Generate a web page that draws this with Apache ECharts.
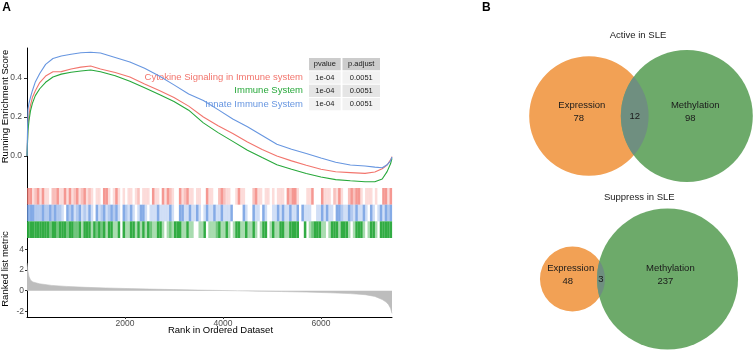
<!DOCTYPE html>
<html><head><meta charset="utf-8">
<script src="https://cdn.jsdelivr.net/npm/echarts@6/dist/echarts.min.js"></script>
<style>html,body{margin:0;padding:0;background:#fff}#c{width:754px;height:351px}</style>
</head><body><div id="c"></div>
<script>
// ---------------- data ----------------
const setNames = ['Cytokine Signaling in Immune system', 'Immune System', 'Innate Immune System'];
const pvalues = ['1e-04', '1e-04', '1e-04'];
const padjust = ['0.0051', '0.0051', '0.0051'];
const tableHeader = ['pvalue', 'p.adjust'];

const esRanks = [0,20,40,70,110,170,260,380,530,700,900,1100,1300,1500,1800,2100,2400,2700,3000,3300,3600,3900,4200,4500,4800,5100,5400,5700,6000,6300,6600,6900,7100,7250,7350,7420,7450];
const esCytokine = [0,0.16,0.21,0.26,0.30,0.335,0.377,0.41,0.432,0.433,0.446,0.456,0.462,0.446,0.428,0.405,0.37,0.336,0.30,0.256,0.2,0.155,0.116,0.072,0.033,0.0,-0.025,-0.047,-0.068,-0.081,-0.085,-0.089,-0.082,-0.065,-0.046,-0.02,-0.003];
const esImmune = [0,0.13,0.18,0.23,0.27,0.31,0.345,0.378,0.405,0.42,0.43,0.436,0.441,0.432,0.412,0.383,0.35,0.315,0.28,0.235,0.17,0.12,0.075,0.03,-0.008,-0.045,-0.068,-0.09,-0.108,-0.121,-0.127,-0.132,-0.132,-0.118,-0.08,-0.04,-0.012];
const esInnate = [0,0.24,0.27,0.30,0.335,0.38,0.423,0.47,0.50,0.513,0.522,0.53,0.532,0.528,0.505,0.482,0.45,0.41,0.365,0.318,0.285,0.238,0.19,0.15,0.105,0.06,0.035,0.013,-0.01,-0.032,-0.046,-0.051,-0.057,-0.06,-0.045,-0.025,-0.005];

const metricRanks = [0,15,40,70,120,250,500,800,1200,1600,2000,2500,3000,3500,4000,4300,4700,5200,5700,6200,6600,6900,7100,7250,7330,7380,7420,7450];
const metricValues = [2.7,2.0,1.4,1.05,0.85,0.68,0.52,0.42,0.33,0.27,0.22,0.16,0.11,0.06,0.02,0.0,-0.04,-0.08,-0.13,-0.2,-0.28,-0.38,-0.55,-0.85,-1.1,-1.35,-1.7,-2.2];

// gene-set hit intensity per 50-rank bin (0 none .. 3 dense)
const rugBin = 50;
const rugCytokine = [3,3,1,2,3, 1,3,1,1,0, 2,2,3,1,1, 3,1,3,1,2, 3,1,2,3,1, 2,1,0,1,1, 0,3,3,1,0, 1,3,1,0,1, 0,1,1,0,1, 2,0,1,1,1, 0,3,1,1,0, 3,1,3,2,1, 0,0,3,1,2, 3,1,1,0,1, 1,0,0,3,1, 1,0,0,2,3, 2,1,1,0,0, 1,3,1,1,0, 0,0,2,3,1, 1,0,1,1,0, 1,0,1,1,1, 0,3,2,3,3, 1,0,0,0,1, 1,3,0,0,0, 3,1,1,1,0, 2,1,3,1,0, 0,2,3,2,3, 3,1,0,1,1, 1,0,1,0,0, 3,3,1,3];
const rugInnate = [3,3,3,2,2, 2,3,2,2,3, 2,3,2,2,1, 0,3,2,3,1, 2,3,1,2,1, 3,1,0,3,1, 2,3,1,2,3, 2,3,1,0,3, 2,1,3,1,0, 1,3,3,1,0, 1,1,1,3,1, 1,1,1,3,1, 0,0,3,3,1, 1,3,1,1,3, 1,0,1,3,1, 1,3,1,1,3, 1,1,1,3,0, 0,0,0,3,1, 0,0,3,1,1, 0,3,1,0,0, 1,1,3,1,3, 1,1,3,1,1, 3,0,3,1,1, 1,0,0,1,1, 3,1,3,1,1, 0,3,3,2,1, 1,3,2,1,3, 1,1,3,1,0, 3,1,0,1,3, 1,3,2,3];
const rugImmune = [3,3,3,3,3, 3,3,3,3,2, 3,3,2,3,3, 3,2,3,3,2, 2,3,1,3,3, 3,1,3,2,3, 2,3,1,3,3, 1,1,3,0,3, 1,1,3,3,1, 3,1,3,1,3, 2,1,1,3,3, 1,0,1,2,1, 3,3,3,1,1, 3,1,1,0,0, 1,1,3,0,1, 1,1,2,3,1, 1,3,1,0,1, 3,3,1,1,3, 1,1,3,1,0, 1,3,3,0,1, 3,1,1,3,3, 1,1,3,3,3, 3,0,0,3,0, 1,2,3,3,3, 1,1,0,1,3, 3,3,1,3,3, 3,1,0,1,3, 3,3,1,0,1, 3,3,1,0,3, 3,3,3,3];

const xTicks = [2000, 4000, 6000];
const esTicks = [0, 0.2, 0.4];
const metricTicks = [-2, 0, 2, 4];

const vennSetNames = ['Expression', 'Methylation'];
const vennTitles = ['Active in SLE', 'Suppress in SLE'];
const activeCounts = [78, 98, 12];     // only A, only B, both
const suppressCounts = [48, 237, 3];

// ---------------- styles / layout ----------------
const FONT = '"Liberation Sans", Arial, Helvetica, sans-serif';
const setColors = ['#F2756D', '#27A83A', '#6796E0'];
const rugOrder = [0, 2, 1]; // red top, blue middle, green bottom
const rugAlpha = [[0, 0.25, 0.45, 0.75], [0, 0.3, 0.5, 0.8], [0, 0.4, 0.65, 0.95]];
const vennColors = ['#F2A155', '#6DAA6A', '#6F8F80'];

function lensArea(r1, r2, d) {
  if (d >= r1 + r2) return 0;
  if (d <= Math.abs(r1 - r2)) return Math.PI * Math.min(r1, r2) ** 2;
  const a1 = Math.acos((d * d + r1 * r1 - r2 * r2) / (2 * d * r1));
  const a2 = Math.acos((d * d + r2 * r2 - r1 * r1) / (2 * d * r2));
  return r1 * r1 * (a1 - Math.sin(2 * a1) / 2) + r2 * r2 * (a2 - Math.sin(2 * a2) / 2);
}
function vennLayout(counts) {
  const r1 = Math.sqrt(counts[0] + counts[2]);
  const r2 = Math.sqrt(counts[1] + counts[2]);
  const target = Math.PI * counts[2];
  let lo = Math.abs(r1 - r2), hi = r1 + r2;
  for (let k = 0; k < 80; k++) {
    const mid = (lo + hi) / 2;
    if (lensArea(r1, r2, mid) > target) lo = mid; else hi = mid;
  }
  return { r1, r2, d: (lo + hi) / 2 };
}
const vennSpecs = [
  { counts: activeCounts, cx: 641, cy: 116, scale: 6.293 },
  { counts: suppressCounts, cx: 639, cy: 279, scale: 4.551 }
];
vennSpecs.forEach(s => {
  s.L = vennLayout(s.counts);
  s.xmin = -s.L.r1; s.xmax = s.L.d + s.L.r2;
  s.R = Math.max(s.L.r1, s.L.r2);
  s.w = (s.xmax - s.xmin) * s.scale; s.h = 2 * s.R * s.scale;
});

function vennRender(spec) {
  return function (params, api) {
    const L = spec.L, counts = spec.counts;
    const c1 = api.coord([0, 0]), c2 = api.coord([L.d, 0]);
    const p1 = api.size([L.r1, 0])[0], p2 = api.size([L.r2, 0])[0];
    const D = c2[0] - c1[0];
    const xi = (D * D + p1 * p1 - p2 * p2) / (2 * D);
    const yi = Math.sqrt(Math.max(0, p1 * p1 - xi * xi));
    const tx = c1[0] + xi, tTop = c1[1] - yi, tBot = c1[1] + yi;
    const lens = 'M' + tx + ' ' + tTop + ' A' + p1 + ' ' + p1 + ' 0 0 1 ' + tx + ' ' + tBot +
                 ' A' + p2 + ' ' + p2 + ' 0 0 1 ' + tx + ' ' + tTop + ' Z';
    const lensX = ((c2[0] - p2) + (c1[0] + p1)) / 2;
    const A1 = Math.PI * p1 * p1, A2 = Math.PI * p2 * p2, LA = lensArea(p1, p2, D);
    const x1 = (A1 * c1[0] - LA * lensX) / (A1 - LA);
    const x2 = (A2 * c2[0] - LA * lensX) / (A2 - LA);
    const cy = c1[1];
    const txt = (s, x, y) => ({ type: 'text', x: x, y: y, style: { text: s, fill: '#1a1a1a', font: '9.5px ' + FONT, textAlign: 'center', textVerticalAlign: 'middle', align: 'center', verticalAlign: 'middle' } });
    return {
      type: 'group',
      children: [
        { type: 'circle', shape: { cx: c1[0], cy: cy, r: p1 }, style: { fill: vennColors[0] } },
        { type: 'circle', shape: { cx: c2[0], cy: cy, r: p2 }, style: { fill: vennColors[1] } },
        { type: 'path', shape: { pathData: lens }, style: { fill: vennColors[2] } },
        txt(vennSetNames[0], x1, cy - 10.3),
        txt(String(counts[0]), x1 - 3, cy + 2),
        txt(vennSetNames[1], x2 + 2, cy - 11),
        txt(String(counts[1]), x2 - 3, cy + 2),
        txt(String(counts[2]), lensX, cy)
      ]
    };
  };
}

// ---------------- series ----------------
const esSeries = [esCytokine, esImmune, esInnate].map((vals, i) => ({
  type: 'line', xAxisIndex: 0, yAxisIndex: 0, name: setNames[i],
  data: esRanks.map((r, j) => [r, vals[j]]),
  showSymbol: false, symbol: 'none', silent: true,
  lineStyle: { color: setColors[i], width: 1.1 }, z: 3 + (i === 2 ? 1 : 0)
}));

const rugData = [];
[rugCytokine, rugInnate, rugImmune].forEach((arr, row) => {
  arr.forEach((lvl, i) => { if (lvl > 0) rugData.push([i * rugBin, row, lvl]); });
});
const rugSeries = {
  type: 'custom', xAxisIndex: 1, yAxisIndex: 1, data: rugData, silent: true,
  renderItem: function (params, api) {
    const x0 = api.value(0), row = api.value(1), lvl = api.value(2);
    const a = api.coord([x0, row]), b = api.coord([x0 + rugBin, row + 1]);
    return {
      type: 'rect',
      shape: { x: a[0], y: Math.min(a[1], b[1]), width: (b[0] - a[0]) + 0.1, height: Math.abs(b[1] - a[1]) },
      style: { fill: setColors[rugOrder[row]], opacity: rugAlpha[row][lvl] }
    };
  }
};

const metricSeries = {
  type: 'line', xAxisIndex: 2, yAxisIndex: 2,
  data: metricRanks.map((r, j) => [r, metricValues[j]]),
  showSymbol: false, symbol: 'none', silent: true,
  lineStyle: { color: '#bdbdbd', width: 0.6 },
  areaStyle: { color: '#bdbdbd', opacity: 1 }
};

const vennSeries = vennSpecs.map((s, i) => ({
  type: 'custom', xAxisIndex: 3 + i, yAxisIndex: 3 + i, data: [[0, 0]], silent: true,
  renderItem: vennRender(s)
}));

// ---------------- graphic (table, texts) ----------------
const graphic = [];
const gtext = (s, x, y, opts) => Object.assign({
  type: 'text', x: x, y: y, silent: true,
  style: Object.assign({ text: s, fill: '#000', font: '9.5px ' + FONT, textAlign: 'center', textVerticalAlign: 'middle', align: 'center', verticalAlign: 'middle' }, (opts && opts.style) || {})
}, (opts && opts.el) || {});
graphic.push(gtext('A', 6.7, 7.6, { style: { font: 'bold 12px ' + FONT } }));
graphic.push(gtext('B', 486.3, 7.8, { style: { font: 'bold 12px ' + FONT } }));
graphic.push(gtext('Running Enrichment Score', 5, 106.5, { el: { rotation: Math.PI / 2 } }));
graphic.push(gtext('Ranked list metric', 5.2, 269, { el: { rotation: Math.PI / 2 } }));
graphic.push(gtext('Rank in Ordered Dataset', 220.5, 330.3));
vennSpecs.forEach((s, i) => graphic.push(gtext(vennTitles[i], i === 0 ? 638 : 639.3, i === 0 ? 35.5 : 197.3, { style: { fill: '#1a1a1a' } })));

const tabTop = 58, rowStep = 13.35, cellH = 12.3;
const cols = [{ x: 309, w: 31.7 }, { x: 342.5, w: 37.5 }];
const rowFills = ['#f2f2f2', '#e5e5e5', '#f2f2f2'];
cols.forEach((c, ci) => {
  graphic.push({ type: 'rect', silent: true, shape: { x: c.x, y: tabTop, width: c.w, height: cellH }, style: { fill: '#cccccc' } });
  graphic.push(gtext(tableHeader[ci], c.x + c.w / 2, tabTop + cellH / 2, { style: { font: '7.5px ' + FONT, fill: '#1a1a1a' } }));
});
setNames.forEach((nm, ri) => {
  const y = tabTop + rowStep * (ri + 1);
  [pvalues[ri], padjust[ri]].forEach((v, ci) => {
    const c = cols[ci];
    graphic.push({ type: 'rect', silent: true, shape: { x: c.x, y: y, width: c.w, height: cellH }, style: { fill: rowFills[ri] } });
    graphic.push(gtext(v, c.x + c.w / 2, y + cellH / 2, { style: { font: '7.5px ' + FONT, fill: '#1a1a1a' } }));
  });
  graphic.push(gtext(nm, 303, y + cellH / 2 - 0.3, { style: { fill: setColors[ri], textAlign: 'right', align: 'right' } }));
});

// ---------------- option ----------------
const axisLineStyle = { show: true, onZero: false, lineStyle: { color: '#000', width: 1 } };
const tickLabel = { color: '#4d4d4d', fontSize: 8.5, fontFamily: FONT };
const option = {
  animation: false,
  backgroundColor: '#fff',
  grid: [
    { left: 27, top: 48, width: 365, height: 140 },
    { left: 27, top: 188, width: 365, height: 50 },
    { left: 27, top: 238, width: 365, height: 79 },
    ...vennSpecs.map(s => ({ left: s.cx - s.w / 2, top: s.cy - s.h / 2, width: s.w, height: s.h }))
  ],
  xAxis: [
    { gridIndex: 0, type: 'value', min: 0, max: 7450, show: false },
    { gridIndex: 1, type: 'value', min: 0, max: 7450, show: false },
    { gridIndex: 2, type: 'value', min: 0, max: 7450,
      axisLine: axisLineStyle,
      axisTick: { show: true, customValues: xTicks, length: 2, lineStyle: { color: '#333' } },
      axisLabel: Object.assign({ customValues: xTicks, margin: 2, formatter: v => String(v) }, tickLabel),
      splitLine: { show: false } },
    ...vennSpecs.map((s, i) => ({ gridIndex: 3 + i, type: 'value', min: s.xmin, max: s.xmax, show: false }))
  ],
  yAxis: [
    { gridIndex: 0, type: 'value', min: -0.164, max: 0.554,
      axisLine: axisLineStyle,
      axisTick: { show: true, customValues: esTicks, length: 3, lineStyle: { color: '#333' } },
      axisLabel: Object.assign({ customValues: esTicks, margin: 5, formatter: v => Number(v).toFixed(1) }, tickLabel),
      splitLine: { show: false } },
    { gridIndex: 1, type: 'value', min: 0, max: 3, inverse: true,
      axisLine: axisLineStyle, axisTick: { show: false }, axisLabel: { show: false }, splitLine: { show: false } },
    { gridIndex: 2, type: 'value', min: -2.55, max: 5.12,
      axisLine: axisLineStyle,
      axisTick: { show: true, customValues: metricTicks, length: 2, lineStyle: { color: '#333' } },
      axisLabel: Object.assign({ customValues: metricTicks, margin: 3, formatter: v => String(v) }, tickLabel),
      splitLine: { show: false } },
    ...vennSpecs.map((s, i) => ({ gridIndex: 3 + i, type: 'value', min: -s.R, max: s.R, show: false }))
  ],
  series: [metricSeries, rugSeries, ...esSeries, ...vennSeries],
  graphic: graphic
};
const chart = echarts.init(document.getElementById('c'), null, { renderer: 'canvas' });
chart.setOption(option);
</script>
</body></html>
